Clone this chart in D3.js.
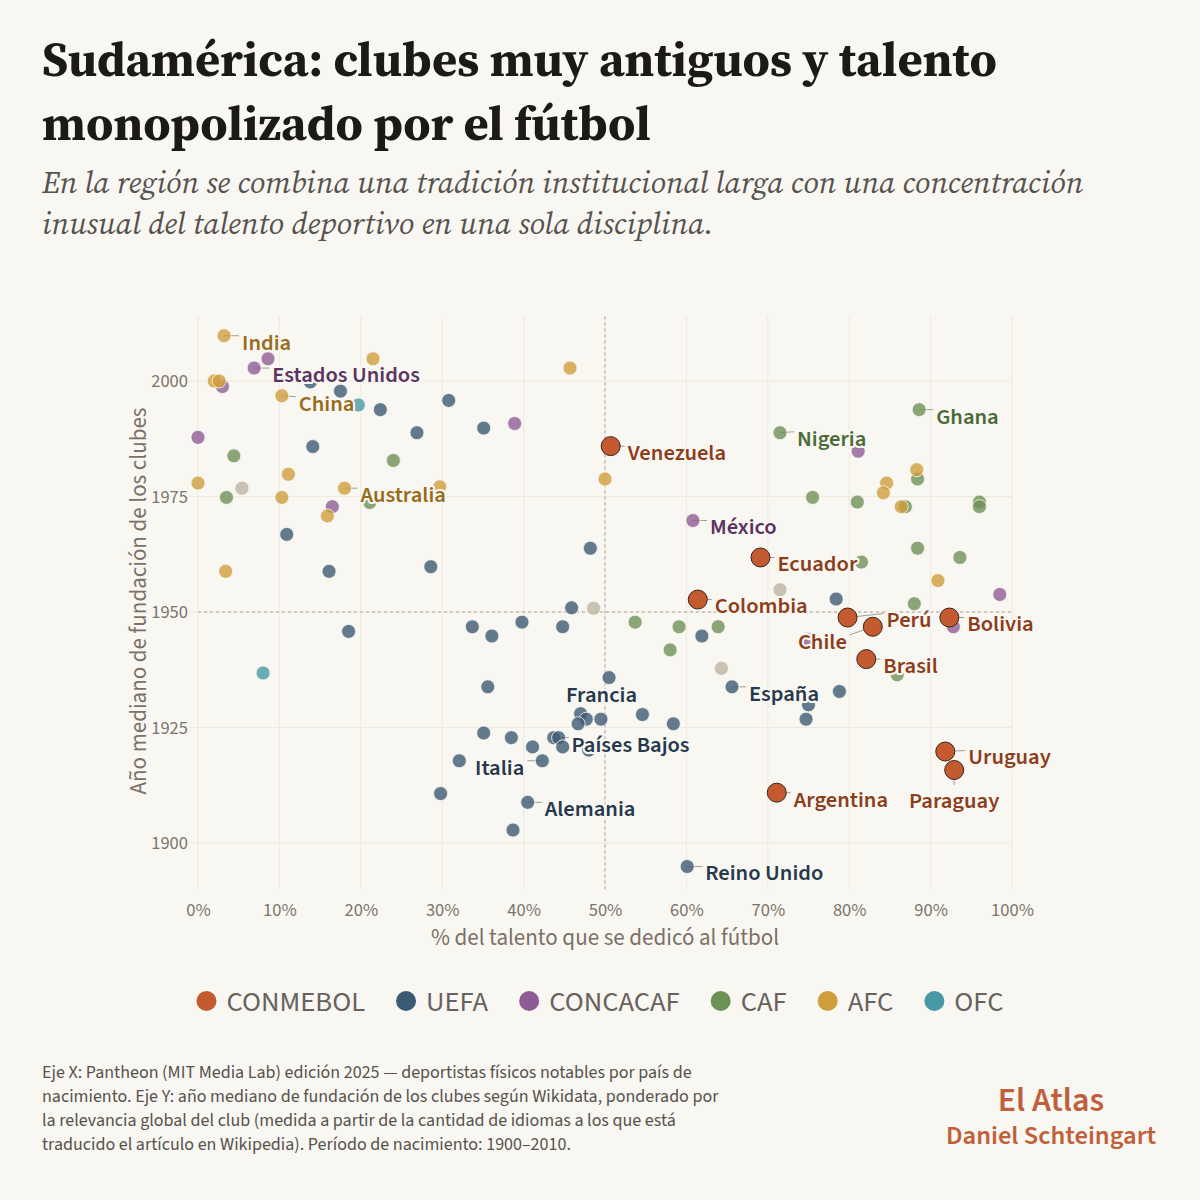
<!DOCTYPE html>
<html>
<head>
<meta charset="utf-8">
<script src="https://cdn.jsdelivr.net/npm/d3@7"></script>
<style>
	body { margin: 0; background: #f9f7f2; }
</style>
</head>
<body>
<div id="chart"></div>
<script>
// ==== Data ====
// [% of talent in football, median founding year, labelled country]
const conmebol = [
	[50.7, 1985.9, 'Venezuela'],
	[69.1, 1961.8, 'Ecuador'],
	[61.4, 1952.7, 'Colombia'],
	[79.8, 1948.8, 'Perú'],
	[82.9, 1946.8, 'Chile'],
	[92.3, 1948.8, 'Bolivia'],
	[82.1, 1939.8, 'Brasil'],
	[91.8, 1919.8, 'Uruguay'],
	[92.9, 1915.8, 'Paraguay'],
	[71.1, 1910.9, 'Argentina'],
];
const uefa = [
	[13.8, 1999.8], [17.5, 1997.8], [22.4, 1993.8], [30.8, 1995.8],
	[26.9, 1988.8], [35.1, 1989.8], [14.1, 1985.8], [10.9, 1966.8],
	[48.2, 1963.8], [16.1, 1958.8], [28.6, 1959.8], [45.9, 1950.9],
	[18.5, 1945.8], [33.7, 1946.8], [36.1, 1944.8], [39.8, 1947.8],
	[44.8, 1946.8], [78.4, 1952.8], [61.9, 1944.8], [50.5, 1935.8],
	[65.6, 1933.8, 'España'], [78.8, 1932.8], [75.0, 1929.9], [74.7, 1926.8],
	[54.6, 1927.8], [58.4, 1925.8], [49.5, 1926.8], [47.0, 1928.0, 'Francia'],
	[47.7, 1926.8], [46.7, 1925.8], [35.6, 1933.8], [35.1, 1923.8],
	[38.5, 1922.8], [41.1, 1920.8], [32.1, 1917.8], [42.3, 1917.8, 'Italia'],
	[29.8, 1910.7], [40.5, 1908.8, 'Alemania'], [38.7, 1902.8], [43.7, 1922.8],
	[44.3, 1922.8, 'Países Bajos'], [44.8, 1920.8], [48.0, 1920.1],
	[60.1, 1894.9, 'Reino Unido'],
];
const concacaf = [
	[8.6, 2004.8], [6.9, 2002.8, 'Estados Unidos'], [3.0, 1998.8], [38.9, 1990.8],
	[0.0, 1987.8], [16.5, 1972.8], [81.1, 1984.8], [60.8, 1969.8, 'México'],
	[98.5, 1953.8], [92.8, 1946.8], [74.9, 1944.1],
];
const caf = [
	[4.4, 1983.8], [24.0, 1982.8], [3.5, 1974.8], [21.1, 1973.7],
	[71.5, 1988.8, 'Nigeria'], [88.6, 1993.8, 'Ghana'], [88.4, 1978.8], [75.5, 1974.8],
	[81.0, 1973.8], [86.9, 1972.8], [96.0, 1973.8], [96.0, 1972.8],
	[81.5, 1960.8], [88.4, 1963.8], [93.6, 1961.8], [88.0, 1951.8],
	[53.7, 1947.8], [59.1, 1946.8], [63.9, 1946.8], [58.0, 1941.8], [85.9, 1936.4],
];
const afc = [
	[3.2, 2009.8, 'India'], [21.5, 2004.8], [45.7, 2002.8], [2.0, 2000.0],
	[2.6, 2000.0], [10.3, 1996.8, 'China'], [11.1, 1979.8], [0.0, 1977.9],
	[10.3, 1974.8], [18.0, 1976.8, 'Australia'], [29.7, 1977.1], [15.9, 1970.8],
	[3.4, 1958.8], [50.0, 1978.8], [88.3, 1980.8], [84.6, 1977.9],
	[84.2, 1975.8], [86.4, 1972.8], [90.9, 1956.8],
];
const ofc = [[19.7, 1994.8], [8.0, 1936.8]];
const otros = [[5.4, 1976.8], [48.6, 1950.8], [71.5, 1954.8], [64.3, 1937.8]];

const confederations = ['CONMEBOL', 'UEFA', 'CONCACAF', 'CAF', 'AFC', 'OFC'];
const xTicks = [0, 10, 20, 30, 40, 50, 60, 70, 80, 90, 100];
const yTicks = [1900, 1925, 1950, 1975, 2000];

// ==== Styling ====
const BG = '#f9f7f2';
const SANS = "'Source Sans 3','Source Sans Pro',Lato,sans-serif";
const SERIF = "'Source Serif 4','Source Serif Pro','Liberation Serif',serif";
const colors = {
	CONMEBOL: '#c45a30', UEFA: '#3d5a73', CONCACAF: '#8e5c94',
	CAF: '#6e9158', AFC: '#cf9e3c', OFC: '#4799a5', otros: '#bdb3a3',
};
const labelColors = {
	CONMEBOL: '#8c3d1c', UEFA: '#27394c', CONCACAF: '#5a3462',
	CAF: '#4b6b38', AFC: '#966d1c',
};
// label offset from the dot: [dx, dy, anchor, no connector]
const labelPlacement = {
	India: [18, 6], 'Estados Unidos': [18, 6], China: [17, 7], Australia: [16, 6],
	Venezuela: [17, 6], Nigeria: [17, 5], Ghana: [17, 6], México: [17, 6],
	Ecuador: [17, 6], Colombia: [17, 6], Perú: [39, 2], Chile: [-26, 14, 'end'],
	Bolivia: [18, 6], Brasil: [17, 6], Uruguay: [23, 5], Paraguay: [0, 30, 'middle'],
	Argentina: [17, 6], España: [17, 6], Francia: [21, -20, 'middle', true],
	'Países Bajos': [13, 6], Italia: [-18, 6, 'end'], Alemania: [17, 6],
	'Reino Unido': [18, 6],
};

const width = 1200;
const height = 1200;

const svg = d3
	.select('#chart')
	.append('svg')
	.attr('width', width)
	.attr('height', height)
	.style('font-family', SANS);

svg.append('rect').attr('width', width).attr('height', height).attr('fill', BG);

// fit a text to a target width by adjusting its font size
function fitText(sel, target) {
	const w = sel.node().getComputedTextLength();
	const fs = parseFloat(sel.attr('font-size'));
	sel.attr('font-size', (fs * target) / w);
}

// ==== Title ====
const t1 = svg.append('text').attr('x', 42).attr('y', 76)
	.attr('font-family', SERIF).attr('font-weight', 700).attr('font-size', 50)
	.attr('fill', '#1c1a19').text('Sudamérica: clubes muy antiguos y talento');
fitText(t1, 955);
svg.append('text').attr('x', 42).attr('y', 140)
	.attr('font-family', SERIF).attr('font-weight', 700).attr('font-size', t1.attr('font-size'))
	.attr('fill', '#1c1a19').text('monopolizado por el fútbol');

const s1 = svg.append('text').attr('x', 42).attr('y', 193)
	.attr('font-family', SERIF).attr('font-style', 'italic').attr('font-size', 29)
	.attr('fill', '#56524e')
	.text('En la región se combina una tradición institucional larga con una concentración');
fitText(s1, 1042);
svg.append('text').attr('x', 42).attr('y', 234)
	.attr('font-family', SERIF).attr('font-style', 'italic').attr('font-size', s1.attr('font-size'))
	.attr('fill', '#56524e')
	.text('inusual del talento deportivo en una sola disciplina.');

// ==== Scales ====
const x = d3.scaleLinear().domain([0, 100]).range([198, 1012]);
const y = d3.scaleLinear().domain([1900, 2000]).range([843, 381]);
const yTop = y(2014);
const yBottom = y(1890);

const grid = svg.append('g').attr('stroke', '#efe9de').attr('stroke-width', 1);
grid.selectAll('.vx').data(xTicks).enter().append('line')
	.attr('x1', (d) => x(d)).attr('x2', (d) => x(d))
	.attr('y1', yTop).attr('y2', yBottom);
grid.selectAll('.hy').data(yTicks).enter().append('line')
	.attr('x1', x(-1)).attr('x2', x(100))
	.attr('y1', (d) => y(d)).attr('y2', (d) => y(d));

// reference lines at 50% and 1950
const ref = svg.append('g').attr('stroke', '#aaa299').attr('stroke-width', 1)
	.attr('stroke-dasharray', '3,3');
ref.append('line').attr('x1', x(50)).attr('x2', x(50)).attr('y1', yTop).attr('y2', yBottom);
ref.append('line').attr('x1', x(0)).attr('x2', x(100)).attr('y1', y(1950)).attr('y2', y(1950));

// ==== Axes ====
const xAxis = svg.append('g')
	.attr('transform', `translate(0,${yBottom})`)
	.call(d3.axisBottom(x).tickValues(xTicks).tickSize(0).tickPadding(14)
		.tickFormat((d) => d + '%'));
const yAxis = svg.append('g')
	.attr('transform', `translate(${x(0)},0)`)
	.call(d3.axisLeft(y).tickValues(yTicks).tickSize(0).tickPadding(10)
		.tickFormat(d3.format('d')));
[xAxis, yAxis].forEach((a) => {
	a.select('.domain').remove();
	a.selectAll('text').attr('font-family', SANS).attr('font-size', 18.5).attr('fill', '#7c746a');
});

svg.append('text').attr('x', x(50)).attr('y', 945).attr('text-anchor', 'middle')
	.attr('font-size', 23).attr('fill', '#7c7166')
	.text('% del talento que se dedicó al fútbol');
svg.append('text').attr('transform', `translate(146,601) rotate(-90)`)
	.attr('text-anchor', 'middle').attr('font-size', 23).attr('fill', '#7c7166')
	.text('Año mediano de fundación de los clubes');

// ==== Points ====
const toPoints = (arr, conf) =>
	arr.map(([px, py, name]) => ({ pct: px, year: py, name: name || null, conf }));
const points = [
	...toPoints(otros, 'otros'),
	...toPoints(uefa, 'UEFA'),
	...toPoints(concacaf, 'CONCACAF'),
	...toPoints(caf, 'CAF'),
	...toPoints(afc, 'AFC'),
	...toPoints(ofc, 'OFC'),
	...toPoints(conmebol, 'CONMEBOL'),
];
const labelled = points.filter((d) => d.name);

// connector lines first so the dots cover their start
svg.append('g').selectAll('line')
	.data(labelled.filter((d) => !labelPlacement[d.name][3]))
	.enter().append('line')
	.attr('stroke', '#a39b92').attr('stroke-width', 1)
	.attr('x1', (d) => x(d.pct)).attr('y1', (d) => y(d.year))
	.attr('x2', (d) => {
		const [dx, , anchor] = labelPlacement[d.name];
		if (anchor === 'middle') return x(d.pct) + dx;
		return x(d.pct) + dx + (anchor === 'end' ? 3 : -3);
	})
	.attr('y2', (d) => {
		const [, dy, anchor] = labelPlacement[d.name];
		if (anchor === 'middle') return y(d.year) + dy - 15;
		return y(d.year) + Math.min(dy - 6, 8);
	});

svg.append('g').selectAll('circle')
	.data(points).enter().append('circle')
	.attr('cx', (d) => x(d.pct))
	.attr('cy', (d) => y(d.year))
	.attr('r', (d) => (d.conf === 'CONMEBOL' ? 9.5 : 7))
	.attr('fill', (d) => colors[d.conf])
	.attr('fill-opacity', (d) => (d.conf === 'CONMEBOL' ? 1 : 0.8))
	.attr('stroke', (d) => (d.conf === 'CONMEBOL' ? '#3b2419' : BG))
	.attr('stroke-width', (d) => (d.conf === 'CONMEBOL' ? 1 : 0.8));

svg.append('g').selectAll('text')
	.data(labelled).enter().append('text')
	.attr('x', (d) => x(d.pct) + labelPlacement[d.name][0])
	.attr('y', (d) => y(d.year) + labelPlacement[d.name][1])
	.attr('dy', '0.35em')
	.attr('text-anchor', (d) => labelPlacement[d.name][2] || 'start')
	.attr('font-size', 22.5).attr('font-weight', 600)
	.attr('fill', (d) => labelColors[d.conf])
	.attr('stroke', BG).attr('stroke-width', 4).attr('stroke-linejoin', 'round')
	.attr('paint-order', 'stroke')
	.text((d) => d.name);

// ==== Legend ====
const legend = svg.append('g').attr('transform', 'translate(0,1001)');
const items = legend.selectAll('g').data(confederations).enter().append('g');
items.append('circle').attr('r', 10).attr('fill', (d) => colors[d]);
items.append('text').attr('x', 20).attr('dy', '0.35em')
	.attr('font-size', 28.6).attr('fill', '#67625d').text((d) => d);
const gap = 41;
let cursor = 0;
const offsets = [];
items.each(function () {
	offsets.push(cursor);
	cursor += 20 + this.querySelector('text').getComputedTextLength() + gap;
});
const legendWidth = cursor - gap + 10;
const legendStart = x(50) - legendWidth / 2 + 5;
items.attr('transform', (d, i) => `translate(${legendStart + offsets[i]},0)`);

// ==== Footer ====
const notes = [
	'Eje X: Pantheon (MIT Media Lab) edición 2025 — deportistas físicos notables por país de',
	'nacimiento. Eje Y: año mediano de fundación de los clubes según Wikidata, ponderado por',
	'la relevancia global del club (medida a partir de la cantidad de idiomas a los que está',
	'traducido el artículo en Wikipedia). Período de nacimiento: 1900–2010.',
];
svg.append('g').selectAll('text').data(notes).enter().append('text')
	.attr('x', 42).attr('y', (d, i) => 1078 + i * 24)
	.attr('font-size', 18).attr('fill', '#57524d').text((d) => d);

svg.append('text').attr('x', 1051).attr('y', 1111).attr('text-anchor', 'middle')
	.attr('font-size', 34).attr('font-weight', 600).attr('fill', '#c0603a').text('El Atlas');
svg.append('text').attr('x', 1051).attr('y', 1144).attr('text-anchor', 'middle')
	.attr('font-size', 26.5).attr('font-weight', 600).attr('fill', '#c0603a').text('Daniel Schteingart');
</script>
</body>
</html>
